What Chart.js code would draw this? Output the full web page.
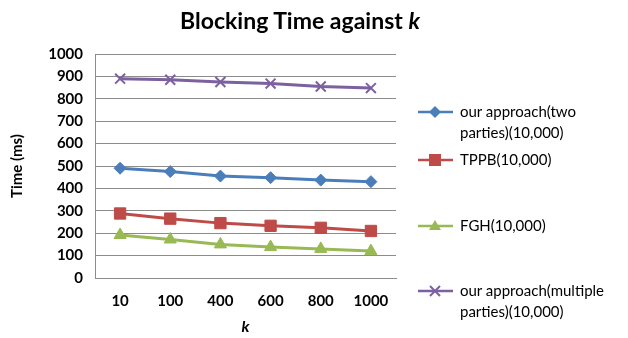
<!DOCTYPE html>
<html>
<head>
<meta charset="utf-8">
<script src="https://cdn.jsdelivr.net/npm/chart.js@4.4.0/dist/chart.umd.min.js"></script>
<style>
  body { margin: 0; background: #fff; font-family: Lato, sans-serif; }
  #wrap { position: relative; width: 628px; height: 338px; }
  #titulo { position: absolute; left: 0; width: 600px; top: 6px; text-align: center;
            font-weight: bold; font-size: 23px; color: #000; }
  .item { position: absolute; left: 418px; font-size: 15px; line-height: 21px; color: #000; }
  .item svg { position: absolute; left: 0; top: 3px; }
  .item span { position: absolute; left: 42px; top: 3px; white-space: nowrap; }
</style>
</head>
<body>
<div id="wrap">
  <canvas id="grafica" width="628" height="338"></canvas>
  <div id="titulo">Blocking Time against <i>k</i></div>
  <div id="leyenda"></div>
</div>
<script>
var categorias = ['10', '100', '400', '600', '800', '1000'];
var dosPartes = [490, 475, 455, 448, 437, 430];
var tppb = [288, 265, 245, 233, 224, 210];
var fgh = [192, 172, 150, 138, 130, 120];
var multiPartes = [890, 885, 875, 868, 855, 848];
var nombres = ['our approach(two parties)(10,000)', 'TPPB(10,000)', 'FGH(10,000)', 'our approach(multiple parties)(10,000)'];

var series = [
    { label: nombres[0], data: dosPartes, color: '#4a7ebb', estilo: 'rectRot', radio: 6 },
    { label: nombres[1], data: tppb, color: '#be4b48', estilo: 'rect', radio: 8 },
    { label: nombres[2], data: fgh, color: '#98b954', estilo: 'triangle', radio: 7 },
    { label: nombres[3], data: multiPartes, color: '#7d60a0', estilo: 'crossRot', radio: 7 }
];

const ctx = document.getElementById('grafica').getContext('2d');
const myChart = new Chart(ctx, {
    type: 'line',
    data: {
        labels: categorias,
        datasets: series.map(function (s) {
            return {
                label: s.label,
                data: s.data,
                borderColor: s.color,
                backgroundColor: s.color,
                borderWidth: 3,
                pointStyle: s.estilo,
                pointRadius: s.radio,
                pointBorderWidth: s.estilo == 'crossRot' ? 2 : 1,
                pointBorderColor: s.color,
                tension: 0
            };
        })
    },
    options: {
        responsive: false,
        animation: false,
        layout: { padding: { top: 54, right: 232, left: 4, bottom: 0 } },
        plugins: {
            legend: { display: false },
            tooltip: { enabled: false }
        },
        scales: {
            x: {
                offset: true,
                grid: { display: false },
                border: { color: '#8c8c8c', width: 1 },
                ticks: { color: '#000', padding: 6, maxRotation: 0, font: { family: 'Lato', size: 15, weight: 'bold' } },
                title: { display: true, text: 'k', color: '#000', padding: { top: 0, bottom: 2 },
                         font: { family: 'Lato', size: 16, weight: 'bold', style: 'italic' } },
                afterFit: function (scale) { scale.height = 60; }
            },
            y: {
                min: 0,
                max: 1000,
                ticks: {
                    stepSize: 100, autoSkip: false, color: '#000', padding: 12,
                    font: { family: 'Lato', size: 15, weight: 'bold' },
                    callback: function (v) { return String(v); }
                },
                grid: { color: '#8c8c8c', lineWidth: 1, drawTicks: false },
                border: { color: '#8c8c8c', width: 1 },
                title: { display: true, text: 'Time (ms)', color: '#000', padding: { bottom: 4 },
                         font: { family: 'Lato', size: 15, weight: 'bold' } },
                afterFit: function (scale) { scale.width = 91; }
            }
        }
    }
});

// leyenda a la derecha, en HTML
var posiciones = [98, 146, 212, 277];
var leyenda = document.getElementById('leyenda');
series.forEach(function (s, i) {
    var texto = s.label.indexOf('approach') >= 0 ? s.label.replace(' parties', '<br>parties') : s.label;
    var marca = '';
    if (s.estilo == 'rectRot') marca = '<polygon points="17,5 23,11 17,17 11,11" fill="' + s.color + '"/>';
    if (s.estilo == 'rect') marca = '<rect x="11" y="5" width="12" height="12" fill="' + s.color + '"/>';
    if (s.estilo == 'triangle') marca = '<polygon points="17,5 23,15 11,15" fill="' + s.color + '"/>';
    if (s.estilo == 'crossRot') marca = '<path d="M12,6 L22,16 M22,6 L12,16" stroke="' + s.color + '" stroke-width="2"/>';
    var div = document.createElement('div');
    div.className = 'item';
    div.style.top = posiciones[i] + 'px';
    div.innerHTML = '<svg width="36" height="22"><line x1="0" y1="11" x2="35" y2="11" stroke="' + s.color +
        '" stroke-width="2.5"/>' + marca + '</svg><span>' + texto + '</span>';
    leyenda.appendChild(div);
});
</script>
</body>
</html>
